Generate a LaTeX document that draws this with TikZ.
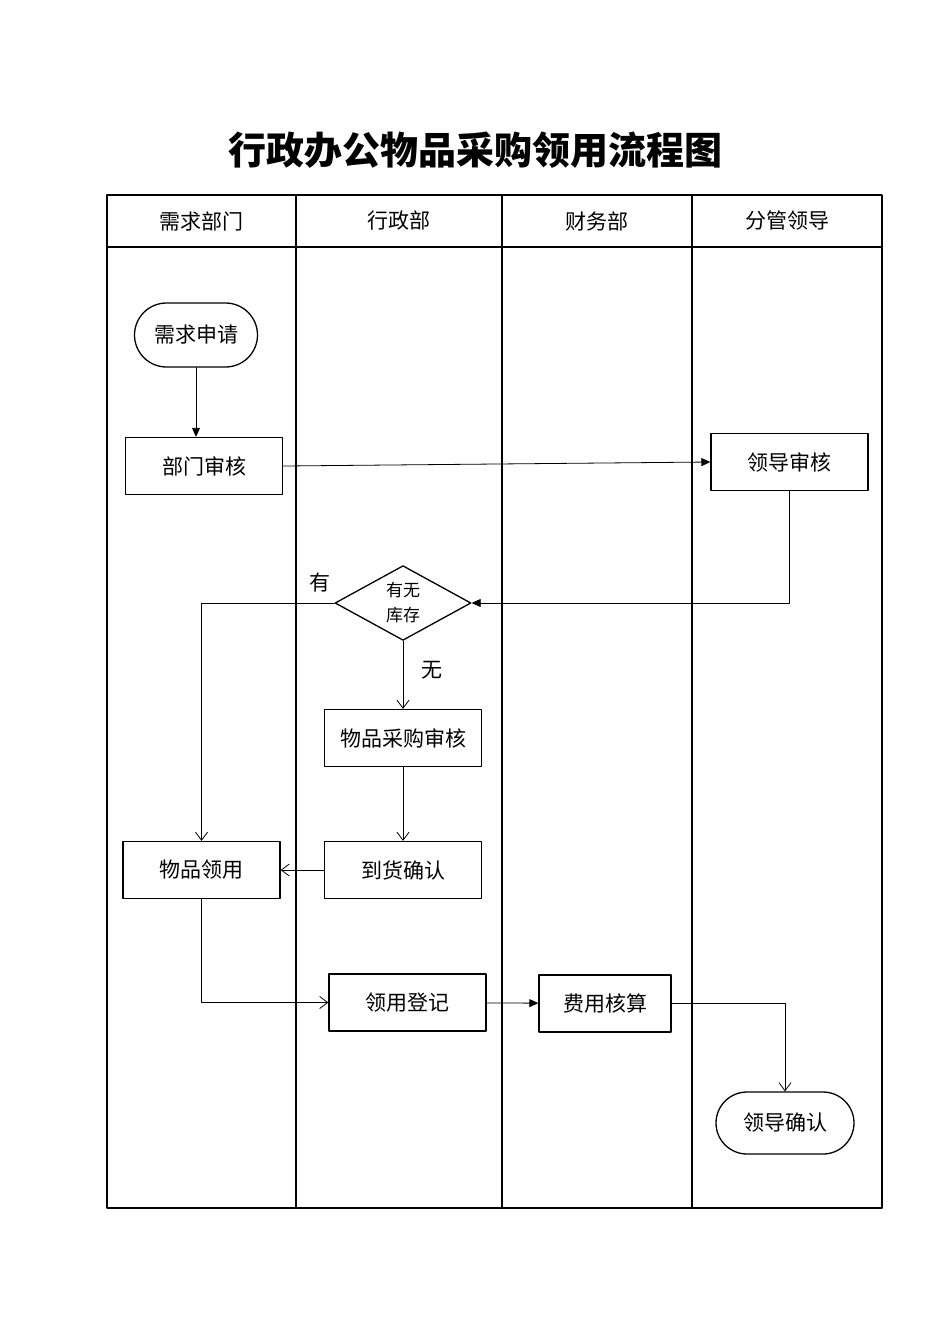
\documentclass[tikz,border=0pt]{standalone}
\usepackage{fontspec}
\setmainfont{Noto Sans CJK SC}
\usetikzlibrary{arrows.meta,shapes.geometric,shapes.misc}
\begin{document}
\begin{tikzpicture}[x=1pt, y=-1pt, line join = round, line cap = round]
			\pgfmathsetmacro\tl{107}
			\pgfmathsetmacro\tr{882}
			\pgfmathsetmacro\tt{195}
			\pgfmathsetmacro\th{247}
			\pgfmathsetmacro\tb{1208}
			\tikzset{
				lbl/.style={font=\fontsize{21}{25}\selectfont},
				box/.style={draw, line width=1.3pt, minimum width=157pt, minimum height=57pt, inner sep=0pt, lbl},
				term/.style={draw, rounded rectangle, line width=1.3pt, minimum width=123pt, minimum height=64pt, inner sep=0pt, lbl},
				dia/.style={draw, diamond, line width=1.3pt, minimum width=136pt, minimum height=73pt, inner sep=0pt, align=center, font=\fontsize{17}{25}\selectfont},
				fa/.style={draw, line width=0.8pt, -{Triangle[length=9pt,width=8pt]}},
				oa/.style={draw, line width=0.8pt, -{Straight Barb[length=8pt,width=12pt]}}
			}
			\useasboundingbox (0,0) rectangle (950,1344);
			% title
			\node[font=\fontsize{38}{44}\selectfont\bfseries] (title) at (475,150) {行政办公物品采购领用流程图};
			% lanes
			\draw[line width=1.6pt] (\tl,\tt) rectangle (\tr,\tb);
			\draw[line width=1.6pt] (\tl,\th) -- (\tr,\th);
			\foreach \x in {296,502,692}
				\draw[line width=1.6pt] (\x,\tt) -- (\x,\tb);
			\node[lbl] (h1) at (201.5,221) {需求部门};
			\node[lbl] (h2) at (399,221) {行政部};
			\node[lbl] (h3) at (597,221) {财务部};
			\node[lbl] (h4) at (787,221) {分管领导};
			% steps
			\node[term] (req) at (196,335) {需求申请};
			\node[box] (dept) at (204,466) {部门审核};
			\node[box] (lead) at (789.5,462) {领导审核};
			\node[dia] (stock) at (403,603) {有无\\库存};
			\node[box] (buy) at (403,738) {物品采购审核};
			\node[box] (arrive) at (403,870) {到货确认};
			\node[box] (use) at (201.5,870) {物品领用};
			\node[box] (reg) at (407.5,1002.5) {领用登记};
			\node[box, minimum width=132pt] (fee) at (605,1003.5) {费用核算};
			\node[term, minimum width=138pt, minimum height=62pt] (confirm) at (785,1123) {领导确认};
			\node[lbl] (yes) at (320,583) {有};
			\node[lbl] (no) at (432,670) {无};
			% flow
			\draw[fa] (req.south) -- (req.south |- dept.north);
			\draw[fa] (dept.east) -- (lead.west);
			\draw[fa] (lead.south) |- (stock.east);
			\draw[oa] (stock.west) -| (use.north);
			\draw[oa] (stock) -- (buy);
			\draw[oa] (buy) -- (arrive);
			\draw[oa] (arrive) -- (use);
			\draw[oa] (use.south) |- (reg.west);
			\draw[fa] (reg) -- (fee);
			\draw[oa] (fee.east) -| (confirm.north);
		\end{tikzpicture}
\end{document}
